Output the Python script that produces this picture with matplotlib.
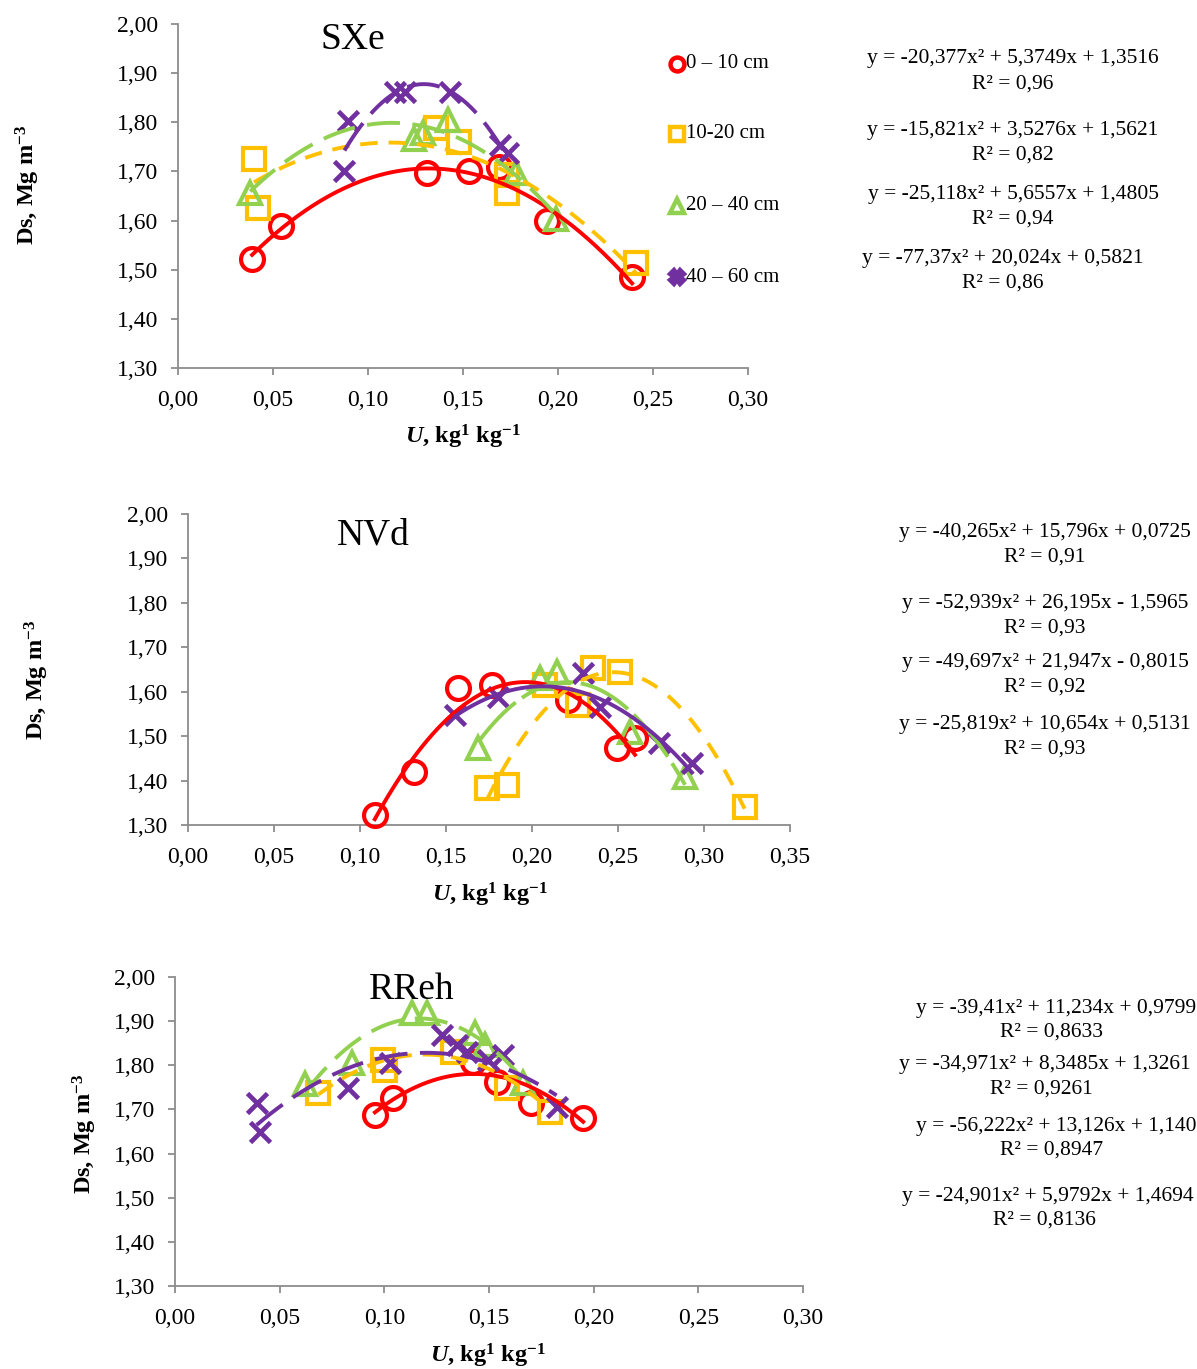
import numpy as np
import matplotlib
matplotlib.use('Agg')
import matplotlib.pyplot as plt
from matplotlib.lines import Line2D

plt.rcParams['font.family'] = ['Liberation Serif', 'DejaVu Serif']
plt.rcParams['mathtext.fontset'] = 'custom'
plt.rcParams['mathtext.rm'] = 'Liberation Serif'
plt.rcParams['mathtext.it'] = 'Liberation Serif:italic'
plt.rcParams['mathtext.bf'] = 'Liberation Serif:bold'
plt.rcParams['mathtext.bfit'] = 'Liberation Serif:italic:bold'

layers = ['0 – 10 cm', '10-20 cm', '20 – 40 cm', '40 – 60 cm']

# soil moisture U (kg/kg) and bulk density Ds (Mg/m3), one list per layer
sxe_u = [
    [0.039, 0.054, 0.131, 0.153, 0.169, 0.194, 0.239],
    [0.040, 0.042, 0.136, 0.148, 0.173, 0.173, 0.241],
    [0.038, 0.124, 0.129, 0.142, 0.178, 0.199],
    [0.0876, 0.0896, 0.1142, 0.1195, 0.1432, 0.1695, 0.1738],
]
sxe_ds = [
    [1.522, 1.589, 1.697, 1.700, 1.710, 1.599, 1.485],
    [1.726, 1.626, 1.788, 1.760, 1.692, 1.657, 1.514],
    [1.657, 1.766, 1.778, 1.804, 1.696, 1.603],
    [1.701, 1.803, 1.862, 1.862, 1.862, 1.754, 1.737],
]
sxe_coef = [('-20,377', '5,3749', '1,3516'), ('-15,821', '3,5276', '1,5621'),
            ('-25,118', '5,6557', '1,4805'), ('-77,37', '20,024', '0,5821')]
sxe_r2 = ['0,96', '0,82', '0,94', '0,86']

nvd_u = [
    [0.1086, 0.1315, 0.1572, 0.1766, 0.2211, 0.2492, 0.2599],
    [0.1737, 0.1853, 0.2076, 0.2269, 0.2356, 0.2512, 0.3236],
    [0.1688, 0.2047, 0.2144, 0.2570, 0.2890],
    [0.1552, 0.1805, 0.2299, 0.2395, 0.2737, 0.2930],
]
nvd_ds = [
    [1.323, 1.420, 1.608, 1.615, 1.581, 1.473, 1.495],
    [1.383, 1.390, 1.615, 1.570, 1.653, 1.645, 1.341],
    [1.473, 1.630, 1.645, 1.510, 1.409],
    [1.548, 1.589, 1.641, 1.566, 1.484, 1.439],
]
nvd_coef = [('-40,265', '15,796', '0,0725'), ('-52,939', '26,195', '-1,5965'),
            ('-49,697', '21,947', '-0,8015'), ('-25,819', '10,654', '0,5131')]
nvd_r2 = ['0,91', '0,93', '0,92', '0,93']

rreh_u = [
    [0.0955, 0.1043, 0.1425, 0.1536, 0.1703, 0.1950],
    [0.0685, 0.0995, 0.1003, 0.1329, 0.1584, 0.1790],
    [0.0621, 0.0844, 0.1130, 0.1202, 0.1433, 0.1480, 0.1664],
    [0.0390, 0.0406, 0.0828, 0.1027, 0.1274, 0.1345, 0.1393, 0.1496, 0.1567, 0.1823],
]
rreh_ds = [
    [1.687, 1.725, 1.808, 1.763, 1.714, 1.680],
    [1.737, 1.812, 1.789, 1.831, 1.748, 1.695],
    [1.757, 1.805, 1.918, 1.918, 1.873, 1.846, 1.760],
    [1.714, 1.650, 1.748, 1.805, 1.869, 1.846, 1.831, 1.812, 1.823, 1.706],
]
rreh_coef = [('-39,41', '11,234', '0,9799'), ('-34,971', '8,3485', '1,3261'),
             ('-56,222', '13,126', '1,140'), ('-24,901', '5,9792', '1,4694')]
rreh_r2 = ['0,8633', '0,9261', '0,8947', '0,8136']

colors = ['#FF0000', '#FFC000', '#92D050', '#7030A0']
markers = ['o', 's', '^', 'x']

W, H = 1197, 1369
fig = plt.figure(figsize=(W / 100, H / 100), dpi=100)


def num(s):
    return float(s.replace(',', '.'))


def eq_text(c):
    a, b, k = c
    sign = '-' if k.startswith('-') else '+'
    return f'y = {a}x² + {b}x {sign} {k.lstrip("-")}'


def px(x, y):
    return x / W, 1 - y / H


def panel(rect, xmax, us, dss, coefs, styles):
    ax = fig.add_axes(rect)
    for u, d, c, m in zip(us, dss, colors, markers):
        ax.plot(u, d, ls='none', marker=m, ms=16.5 if m != 'x' else 15,
                mfc='none', mec=c, mew=3.0 if m != 'x' else 3.4,
                clip_on=False, zorder=3)
    # quadratic trend lines over each layer's moisture range
    for u, c, cf, ls in zip(us, colors, coefs, styles):
        xs = np.linspace(min(u), max(u), 200)
        ys = np.polyval([num(v) for v in cf], xs)
        ax.plot(xs, ys, color=c, lw=2.8, ls=ls, clip_on=False, zorder=4)
    ax.set_xlim(0, xmax)
    ax.set_ylim(1.30, 2.00)
    xt = np.arange(0, xmax + 1e-9, 0.05)
    ax.set_xticks(xt)
    ax.set_xticklabels([f'{v:.2f}'.replace('.', ',') for v in xt])
    yt = np.arange(1.30, 2.001, 0.10)
    ax.set_yticks(yt)
    ax.set_yticklabels([f'{v:.2f}'.replace('.', ',') for v in yt])
    for s in ['top', 'right']:
        ax.spines[s].set_visible(False)
    for s in ['left', 'bottom']:
        ax.spines[s].set_color('#8c8c8c')
        ax.spines[s].set_linewidth(1.3)
    ax.tick_params(axis='both', direction='out', length=5, width=1.3,
                   color='#8c8c8c', labelsize=17, pad=9)
    ax.tick_params(axis='x', pad=11)
    return ax


xlab = r'$\mathbfit{U}$, kg$^{\mathbf{1}}$ kg$^{\mathbf{-1}}$'
ylab = r'Ds, Mg m$^{\mathbf{-3}}$'

dash = (0, (4.5, 2.8))
ldash = (0, (8.5, 3.2))

# SXe
panel([178 / W, 1 - 368 / H, 570 / W, 344 / H], 0.30, sxe_u, sxe_ds,
      sxe_coef, ['-', dash, ldash, ldash])
fig.text(*px(353, 40), 'SXe', fontsize=27, ha='center', va='center')
fig.text(*px(28, 185), ylab, fontsize=17.5, fontweight='bold', rotation=90,
         ha='center', va='center')
fig.text(*px(463, 437), xlab, fontsize=17.5, fontweight='bold', ha='center', va='center')
for i, (lab, c, m) in enumerate(zip(layers, colors, markers)):
    y = [64, 134, 206, 277][i]
    mk = 'X' if m == 'x' else m
    fig.add_artist(Line2D([677 / W], [1 - y / H], transform=fig.transFigure,
                          marker=mk, ms=10, mfc='white' if m != 'x' else c,
                          mec=c, mew=3.2, ls='none'))
    fig.text(*px(686, y), lab, fontsize=15, ha='left', va='center')
for i, (cf, r2) in enumerate(zip(sxe_coef, sxe_r2)):
    xc = [1013, 1013, 1013, 1003][i]
    y1, y2 = [(59, 84), (130, 155), (195, 219), (259, 283)][i]
    fig.text(*px(xc, y1), eq_text(cf), fontsize=15.5, ha='center', va='center')
    fig.text(*px(xc, y2), f'R² = {r2}', fontsize=15.5, ha='center', va='center')

# NVd
panel([188 / W, 1 - 825 / H, 602 / W, 311 / H], 0.35, nvd_u, nvd_ds,
      nvd_coef, ['-', (0, (4.5, 3.5)), (0, (14, 2)), '-'])
fig.text(*px(373, 535), 'NVd', fontsize=27, ha='center', va='center')
fig.text(*px(37, 680), ylab, fontsize=17.5, fontweight='bold', rotation=90,
         ha='center', va='center')
fig.text(*px(490, 895), xlab, fontsize=17.5, fontweight='bold', ha='center', va='center')
for i, (cf, r2) in enumerate(zip(nvd_coef, nvd_r2)):
    y1, y2 = [(533, 557), (604, 628), (663, 687), (725, 749)][i]
    fig.text(*px(1045, y1), eq_text(cf), fontsize=15.5, ha='center', va='center')
    fig.text(*px(1045, y2), f'R² = {r2}', fontsize=15.5, ha='center', va='center')

# RReh
panel([175 / W, 1 - 1286 / H, 628 / W, 309 / H], 0.30, rreh_u, rreh_ds,
      rreh_coef, ['-', dash, ldash, ldash])
fig.text(*px(412, 990), 'RReh', fontsize=27, ha='center', va='center')
fig.text(*px(85, 1134), ylab, fontsize=17.5, fontweight='bold', rotation=90,
         ha='center', va='center')
fig.text(*px(488, 1356), xlab, fontsize=17.5, fontweight='bold', ha='center', va='center')
for i, (cf, r2) in enumerate(zip(rreh_coef, rreh_r2)):
    xc = [1056, 1045, 1056, 1048][i]
    y1, y2 = [(1008, 1032), (1065, 1089), (1126, 1150), (1196, 1220)][i]
    fig.text(*px(xc, y1), eq_text(cf), fontsize=15.5, ha='center', va='center')
    fig.text(*px(xc - 4, y2), f'R² = {r2}', fontsize=15.5, ha='center', va='center')

fig.savefig('out.png', dpi=100, facecolor='white')
